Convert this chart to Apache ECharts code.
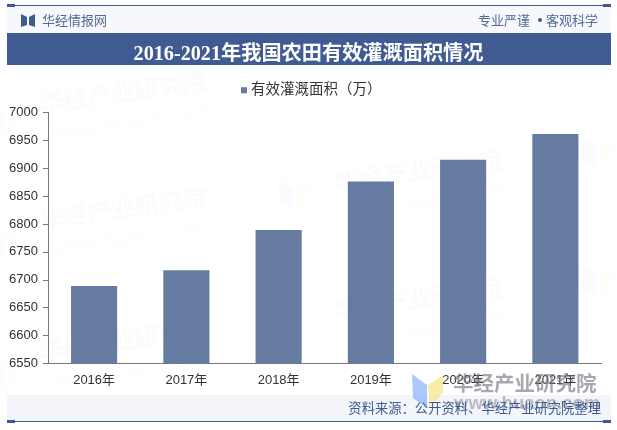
<!DOCTYPE html>
<html><head><meta charset="utf-8">
<script src="https://cdn.jsdelivr.net/npm/echarts@6/dist/echarts.min.js"></script>
<style>html,body{margin:0;padding:0;background:#fff}#c{width:617px;height:430px}</style>
</head><body><div id="c"></div>
<script>
const categories = ['2016年','2017年','2018年','2019年','2020年','2021年'];
const areaValues = [6689, 6717, 6789, 6876, 6915, 6961];
const seriesName = '有效灌溉面积（万）';
const titleText = '2016-2021年我国农田有效灌溉面积情况';
const sans = '"Liberation Sans","Noto Sans CJK SC",sans-serif';
const navy = '#3f5b92';

function mark(x, y) {
  return {type:'group', x, y, silent:true, z:50, children:[
    {type:'text', rotation:0.14, style:{x:0,y:0,text:'华经产业研究院',font:'bold 24px "Noto Sans CJK SC"',fill:'rgba(120,130,150,0.03)'}},
    {type:'text', rotation:0.14, style:{x:8,y:32,text:'www.huaon.com',font:'22px "Liberation Sans"',fill:'rgba(120,130,150,0.02)'}}
  ]};
}
function logo(x, y, a) {
  return {type:'group', x, y, silent:true, z:49, children:[
    {type:'polygon', shape:{points:[[0,0],[15,11],[15,34],[1,24]]}, style:{fill:`rgba(120,170,245,${a})`}},
    {type:'polygon', shape:{points:[[16,11],[31,1],[31,18],[18,34]]}, style:{fill:`rgba(250,225,120,${a})`}}
  ]};
}
const graphic = [
  {type:'rect', z:-1, silent:true, shape:{x:7,y:6,width:604,height:27}, style:{fill:'#f6f8fb'}},
  {type:'rect', z:-1, silent:true, shape:{x:7,y:395,width:604,height:26}, style:{fill:'#f3f5fa'}},
  {type:'rect', silent:true, shape:{x:7,y:5,width:604,height:1}, style:{fill:navy}},
  {type:'rect', silent:true, shape:{x:7,y:4,width:8,height:3}, style:{fill:navy}},
  {type:'rect', silent:true, shape:{x:603,y:4,width:8,height:3}, style:{fill:navy}},
  {type:'rect', silent:true, shape:{x:7,y:421,width:604,height:1}, style:{fill:navy}},
  {type:'rect', silent:true, shape:{x:7,y:420,width:8,height:3}, style:{fill:navy}},
  {type:'rect', silent:true, shape:{x:603,y:420,width:8,height:3}, style:{fill:navy}},
  {type:'rect', silent:true, shape:{x:7,y:33,width:604,height:32}, style:{fill:navy}},
  {type:'polygon', silent:true, shape:{points:[[21,14],[27,17],[27,25],[21,27]]}, style:{fill:navy}},
  {type:'polygon', silent:true, shape:{points:[[35,14],[29,17],[29,25],[35,27]]}, style:{fill:navy}},
  {type:'text', silent:true, style:{x:42,y:20,text:'华经情报网',font:'13px "Noto Sans CJK SC"',fill:'#556a96',verticalAlign:'middle'}},
  {type:'text', silent:true, style:{x:598,y:20,text:'客观科学',font:'13px "Noto Sans CJK SC"',fill:'#556a96',align:'right',verticalAlign:'middle'}},
  {type:'circle', silent:true, shape:{cx:540,cy:20,r:2}, style:{fill:'#3f5b92'}},
  {type:'text', silent:true, style:{x:478,y:20,text:'专业严谨',font:'13px "Noto Sans CJK SC"',fill:'#556a96',verticalAlign:'middle'}},
  mark(38,92), mark(38,208), mark(38,340), mark(334,170), mark(334,298),
  logo(-12,100,0.04), logo(278,178,0.04), logo(582,135,0.04), logo(582,265,0.04), logo(-12,225,0.04), logo(-12,355,0.04),
  logo(412,374,0.62),
  {type:'text', silent:true, z:55, style:{x:453,y:373,text:'华经产业研究院',font:'bold 20.5px "Noto Sans CJK SC"',fill:'rgba(110,115,125,0.62)'}},
  {type:'text', silent:true, z:55, style:{x:454,y:394,text:'www.huaon.com',font:'bold 18.5px "Liberation Sans"',fill:'rgba(110,115,125,0.45)'}},
  {type:'text', silent:true, z:60, style:{x:601,y:408,text:'资料来源：公开资料、华经产业研究院整理',font:'13.3px "Noto Sans CJK SC"',fill:'#3f5b92',align:'right',verticalAlign:'middle'}}
];

const chart = echarts.init(document.getElementById('c'), null, {renderer:'canvas'});
chart.setOption({
  animation:false,
  backgroundColor:'#fff',
  title:{text:titleText,left:'center',top:44.5,padding:0,textStyle:{color:'#fff',fontSize:20.2,fontWeight:'bold',fontFamily:'"Liberation Serif","Noto Sans CJK SC",serif'}},
  legend:{top:83,left:241,itemWidth:6,itemHeight:6,icon:'rect',itemGap:4,data:[seriesName],padding:0,textStyle:{fontSize:14.5,color:'#333',padding:[0,0,0,-1],fontFamily:sans}},
  grid:{left:48,right:15.5,top:112.3,bottom:66.5},
  xAxis:{type:'category',data:categories,axisTick:{length:5,lineStyle:{color:'#777'}},axisLine:{lineStyle:{color:'#777'}},axisLabel:{color:'#333',fontSize:13,margin:10,fontFamily:sans}},
  yAxis:{type:'value',min:6550,max:7000,interval:50,splitLine:{show:false},axisLine:{show:true,lineStyle:{color:'#777'}},axisTick:{show:true,length:5,lineStyle:{color:'#777'}},axisLabel:{color:'#333',fontSize:13,margin:10,fontFamily:sans,formatter:v=>String(v)}},
  series:[{name:seriesName,type:'bar',data:areaValues,barWidth:'50%',itemStyle:{color:'#667ba1'},z:2}],
  graphic
});
</script></body></html>
